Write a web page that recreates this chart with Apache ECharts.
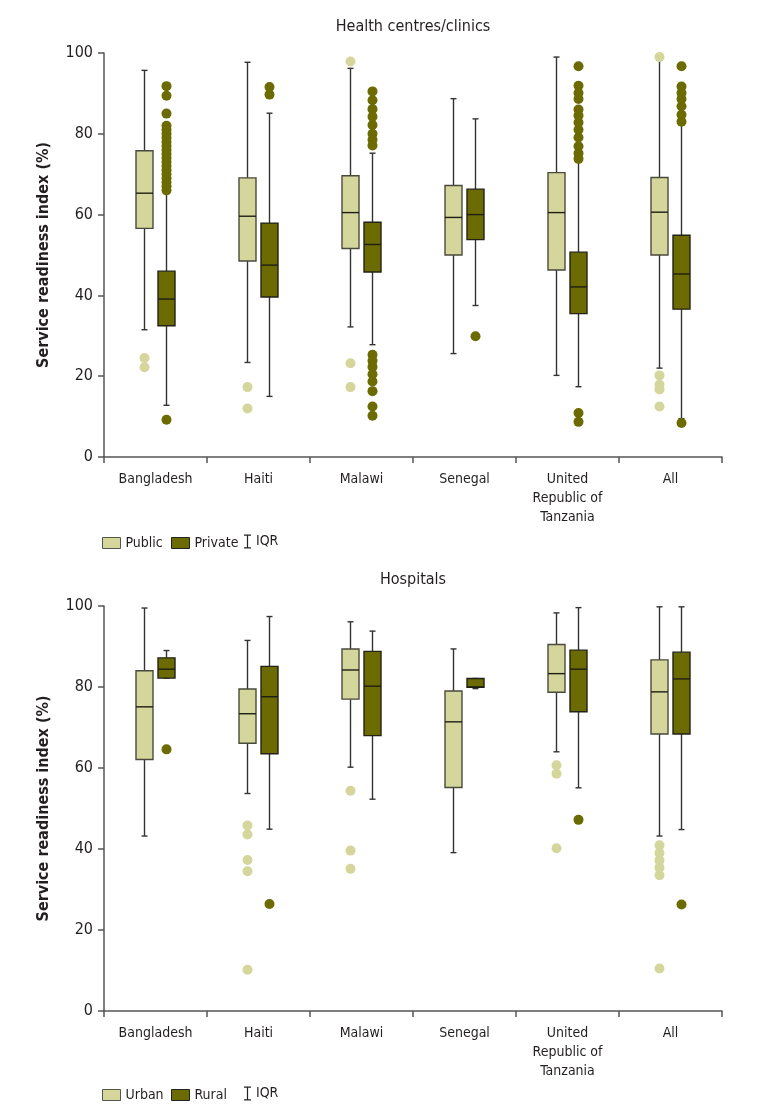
<!DOCTYPE html>
<html><head><meta charset="utf-8">
<script src="https://cdn.jsdelivr.net/npm/echarts@6/dist/echarts.min.js"></script>
<style>html,body{margin:0;padding:0;background:#fff}#c{width:771px;height:1117px}</style>
</head><body><div id="c"></div>
<script>
// ---------- DATA ----------
const categories = ['Bangladesh', 'Haiti', 'Malawi', 'Senegal', 'United\nRepublic of\nTanzania', 'All'];
const yAxisTitle = 'Service readiness index (%)';
const chartTitles = ['Health centres/clinics', 'Hospitals'];

// each box: [lower whisker, Q1, median, Q3, upper whisker]
const clinicsPublic = [
  [31.5, 56.6, 65.3, 75.8, 95.7],
  [23.4, 48.5, 59.6, 69.1, 97.7],
  [32.2, 51.6, 60.5, 69.6, 96.2],
  [25.6, 50.0, 59.3, 67.2, 88.7],
  [20.2, 46.3, 60.5, 70.4, 99.0],
  [22.0, 50.0, 60.6, 69.2, 98.3]
];
const clinicsPrivate = [
  [12.8, 32.5, 39.1, 46.0, 65.5],
  [15.0, 39.6, 47.5, 57.9, 85.1],
  [27.8, 45.8, 52.6, 58.1, 75.2],
  [37.5, 53.8, 60.0, 66.3, 83.7],
  [17.4, 35.5, 42.1, 50.7, 73.5],
  [9.5, 36.6, 45.3, 54.9, 82.5]
];
// outliers: [category index, value]
const clinicsPublicOutliers = [
  [0, 24.5], [0, 22.2],
  [1, 17.3], [1, 12.0],
  [2, 97.9], [2, 23.2], [2, 17.3],
  [5, 99.0], [5, 20.2], [5, 17.9], [5, 16.7], [5, 12.5]
];
const clinicsPrivateOutliers = [
  [0, 91.8], [0, 89.4], [0, 85.0], [0, 82.0], [0, 81.0], [0, 80.0], [0, 79.0], [0, 78.0],
  [0, 77.0], [0, 76.0], [0, 75.0], [0, 74.0], [0, 73.0], [0, 72.0], [0, 71.0], [0, 70.0],
  [0, 69.0], [0, 68.0], [0, 67.0], [0, 66.0], [0, 9.2],
  [1, 91.6], [1, 89.7],
  [2, 90.5], [2, 88.3], [2, 86.1], [2, 84.2], [2, 82.2], [2, 80.0], [2, 78.5], [2, 77.1],
  [2, 25.3], [2, 23.8], [2, 22.3], [2, 20.5], [2, 18.7], [2, 16.3], [2, 12.5], [2, 10.2],
  [3, 29.9],
  [4, 96.7], [4, 91.9], [4, 90.1], [4, 88.6], [4, 86.0], [4, 84.5], [4, 82.8], [4, 81.0],
  [4, 79.1], [4, 76.9], [4, 75.2], [4, 73.8], [4, 10.9], [4, 8.7],
  [5, 96.7], [5, 91.7], [5, 90.1], [5, 88.6], [5, 86.8], [5, 84.7], [5, 83.0], [5, 8.4]
];

const hospitalsUrban = [
  [43.2, 62.1, 75.1, 84.0, 99.5],
  [53.7, 66.1, 73.4, 79.5, 91.5],
  [60.2, 77.0, 84.2, 89.4, 96.1],
  [39.1, 55.2, 71.4, 79.0, 89.4],
  [64.0, 78.7, 83.3, 90.5, 98.3],
  [43.2, 68.4, 78.8, 86.7, 99.8]
];
const hospitalsRural = [
  [82.2, 82.2, 84.4, 87.2, 89.0],
  [44.9, 63.5, 77.6, 85.1, 97.4],
  [52.3, 68.0, 80.2, 88.8, 93.8],
  [79.6, 79.9, 80.0, 82.1, 82.1],
  [55.1, 73.9, 84.4, 89.1, 99.6],
  [44.8, 68.4, 82.0, 88.6, 99.8]
];
const hospitalsUrbanOutliers = [
  [1, 45.8], [1, 43.6], [1, 37.3], [1, 34.5], [1, 10.2],
  [2, 54.4], [2, 39.6], [2, 35.1],
  [4, 60.7], [4, 58.6], [4, 40.2],
  [5, 40.9], [5, 39.0], [5, 37.2], [5, 35.4], [5, 33.5], [5, 10.5]
];
const hospitalsRuralOutliers = [
  [0, 64.6],
  [1, 26.4],
  [4, 47.2],
  [5, 26.3]
];

// ---------- STYLE ----------
const FONT = "'DejaVu Sans Condensed', 'DejaVu Sans', sans-serif";
const LIGHT = '#d4d69b';
const DARK = '#6b6b02';
const TEXT = '#231f20';
const AXIS = '#555555';
const BOX_W = 17, CAP_W = 6, OFFSET = 11;

function boxRenderer(offset, fill, stroke) {
  return function (params, api) {
    const idx = api.value(0);
    const cx = api.coord([idx, 0])[0] + offset;
    const y = v => api.coord([idx, v])[1];
    const lo = y(api.value(1)), q1 = y(api.value(2)), med = y(api.value(3)),
          q3 = y(api.value(4)), hi = y(api.value(5));
    const ls = { stroke: '#333333', lineWidth: 1.4 };
    const h = BOX_W / 2, c = CAP_W / 2;
    return {
      type: 'group',
      children: [
        { type: 'line', shape: { x1: cx, y1: hi, x2: cx, y2: q3 }, style: ls },
        { type: 'line', shape: { x1: cx, y1: q1, x2: cx, y2: lo }, style: ls },
        { type: 'line', shape: { x1: cx - c, y1: hi, x2: cx + c, y2: hi }, style: ls },
        { type: 'line', shape: { x1: cx - c, y1: lo, x2: cx + c, y2: lo }, style: ls },
        { type: 'rect', shape: { x: cx - h, y: q3, width: BOX_W, height: q1 - q3 },
          style: { fill: fill, stroke: stroke, lineWidth: 1.4 } },
        { type: 'line', shape: { x1: cx - h, y1: med, x2: cx + h, y2: med },
          style: { stroke: '#1e1e14', lineWidth: 1.4 } }
      ]
    };
  };
}

function boxSeries(name, data, gi, offset, fill, stroke) {
  return {
    type: 'custom', name: name, xAxisIndex: gi, yAxisIndex: gi,
    renderItem: boxRenderer(offset, fill, stroke),
    itemStyle: { color: fill },
    dimensions: ['cat', 'lo', 'q1', 'med', 'q3', 'hi'],
    encode: { x: 0, y: [1, 2, 3, 4, 5] },
    data: data.map((d, i) => [i].concat(d)),
    z: 2
  };
}
function outlierSeries(name, data, gi, offset, color) {
  return {
    type: 'scatter', name: name, xAxisIndex: gi, yAxisIndex: gi,
    symbol: 'circle', symbolSize: 10, symbolOffset: [offset, 0],
    itemStyle: { color: color, opacity: 1 },
    data: data, z: 3, silent: true
  };
}

const gridTops = [53, 606];
const gridH = [404, 405];

const xAxes = gridTops.map((t, gi) => ({
  type: 'category', gridIndex: gi, data: categories, boundaryGap: true,
  axisLine: { lineStyle: { color: AXIS, width: 1.5 } },
  axisTick: { show: true, length: 6, lineStyle: { color: AXIS, width: 1.5 } },
  axisLabel: { color: TEXT, fontFamily: FONT, fontSize: 14, lineHeight: 19, margin: 13, interval: 0 },
  splitLine: { show: false }
}));
const yAxes = gridTops.map((t, gi) => ({
  type: 'value', gridIndex: gi, min: 0, max: 100, interval: 20,
  name: yAxisTitle, nameLocation: 'middle', nameGap: 52, nameRotate: 90,
  nameTextStyle: { color: TEXT, fontFamily: FONT, fontSize: 16, fontWeight: 'bold' },
  axisLine: { show: true, lineStyle: { color: AXIS, width: 1.5 } },
  axisTick: { show: true, length: 6, lineStyle: { color: AXIS, width: 1.5 } },
  axisLabel: { color: TEXT, fontFamily: FONT, fontSize: 16, margin: 11 },
  splitLine: { show: false }
}));

const legendText = { color: TEXT, fontFamily: FONT, fontSize: 14 };
const IQR_ICON = 'path://M0,0H7V1.3H4.1V12.7H7V14H0V12.7H2.9V1.3H0Z';
function legends(top, n1, n2) {
  return [
    { top: top, left: 102, data: [{ name: n1, icon: 'rect', itemStyle: { borderColor: '#555', borderWidth: 1 } }] },
    { top: top, left: 171, data: [{ name: n2, icon: 'rect', itemStyle: { borderColor: '#222', borderWidth: 1 } }] },
    { top: top - 1.5, left: 244, data: [{ name: 'IQR', icon: IQR_ICON }], itemWidth: 7, itemHeight: 14 }
  ].map(l => Object.assign({ orient: 'horizontal', selectedMode: false, itemWidth: 18, itemHeight: 11,
                               itemGap: 6, textStyle: legendText, padding: 0 }, l));
}

const option = {
  backgroundColor: '#ffffff',
  animation: false,
  grid: gridTops.map((t, i) => ({ left: 104, right: 49, top: t, height: gridH[i] })),
  xAxis: xAxes,
  yAxis: yAxes,
  legend: legends(536, 'Public', 'Private').concat(legends(1088, 'Urban', 'Rural')),
  graphic: [
    { type: 'text', x: 413, y: 27, style: { text: chartTitles[0], fill: TEXT, font: '16px ' + FONT, textAlign: 'center', textVerticalAlign: 'middle' } },
    { type: 'text', x: 413, y: 580, style: { text: chartTitles[1], fill: TEXT, font: '16px ' + FONT, textAlign: 'center', textVerticalAlign: 'middle' } }
  ],
  series: [
    boxSeries('Public', clinicsPublic, 0, -OFFSET, LIGHT, '#4a4a3c'),
    boxSeries('Private', clinicsPrivate, 0, OFFSET, DARK, '#222218'),
    outlierSeries('Public', clinicsPublicOutliers, 0, -OFFSET, LIGHT),
    outlierSeries('Private', clinicsPrivateOutliers, 0, OFFSET, DARK),
    boxSeries('Urban', hospitalsUrban, 1, -OFFSET, LIGHT, '#4a4a3c'),
    boxSeries('Rural', hospitalsRural, 1, OFFSET, DARK, '#222218'),
    outlierSeries('Urban', hospitalsUrbanOutliers, 1, -OFFSET, LIGHT),
    outlierSeries('Rural', hospitalsRuralOutliers, 1, OFFSET, DARK),
    { type: 'custom', name: 'IQR', xAxisIndex: 0, yAxisIndex: 0, data: [],
      itemStyle: { color: '#222222' }, renderItem: function () { return null; } }
  ]
};

const chart = echarts.init(document.getElementById('c'), null, { renderer: 'canvas' });
chart.setOption(option);
</script>
</body></html>
